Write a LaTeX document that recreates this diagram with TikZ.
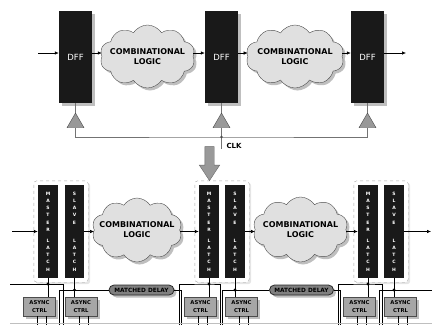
\documentclass[tikz,border=0pt]{standalone}
\usepackage{fontspec}
\setmainfont{DejaVu Sans}
\usepackage{tikz}
\usetikzlibrary{shapes.symbols,shapes.geometric,shapes.arrows,shadows,fit,backgrounds,arrows.meta}

\begin{document}
\begin{tikzpicture}[x=1pt, y=-1pt,
  shd/.style={drop shadow={shadow xshift=2.5pt, shadow yshift=-2.5pt, fill=black!25, opacity=1}},
  dff/.style={rectangle, fill=black!90, minimum width=33pt, minimum height=92pt, text=white, font=\fontsize{8.5}{10}\selectfont, shd},
  cloudbox/.style={cloud, cloud puffs=10, cloud puff arc=115, aspect=1.5, draw=black!70, fill=black!12, inner xsep=-30pt, inner ysep=-8pt, align=center, font=\bfseries\fontsize{8}{10}\selectfont, shd},
  tri/.style={regular polygon, regular polygon sides=3, minimum size=19.6pt, inner sep=0pt, draw=black!70, fill=black!40},
  clkw/.style={draw=black!55, line width=0.8pt},
  arr/.style={-{Latex[length=4pt, width=3.5pt]}, line width=0.6pt},
  latch/.style={rectangle, fill=black!90, minimum width=20pt, minimum height=93pt, inner sep=1pt, text=white, align=center, font=\bfseries\fontsize{4.5}{7.2}\selectfont},
  grp/.style={rectangle, rounded corners=3pt, dashed, draw=black!35, fill=white, inner xsep=4pt, inner ysep=4pt, drop shadow={shadow xshift=2pt, shadow yshift=-2pt, fill=black!10, opacity=1}},
  delay/.style={rectangle, rounded corners=5pt, draw=black!85, line width=0.8pt, fill=black!50, minimum width=65pt, minimum height=10pt, inner sep=0pt, font=\bfseries\fontsize{5.8}{6}\selectfont, shd},
  ctrl/.style={rectangle, draw=black!70, fill=black!35, minimum width=32pt, minimum height=19pt, inner sep=0pt, align=center, font=\bfseries\fontsize{5.3}{7.5}\selectfont, shd},
  wire/.style={line width=0.8pt}]
  \useasboundingbox (0,0) rectangle (432,325);

  % flip-flop pipeline
  \node (dff1) [dff] at (75.5,57) {DFF};
  \node (dff2) [dff] at (221.5,57) {DFF};
  \node (dff3) [dff] at (367.5,57) {DFF};
  \node (cl1) [cloudbox, minimum width=95pt, minimum height=63pt] at (147.5,56.5) {COMBINATIONAL\\LOGIC};
  \node (cl2) [cloudbox, minimum width=98pt, minimum height=63pt] at (295,56.5) {COMBINATIONAL\\LOGIC};
  \coordinate (din) at (38,53);
  \coordinate (dout) at (406,53);
  \draw[arr] (din) -- (din -| dff1.west);
  \draw[arr] (dff1.east |- din) -- (cl1.west |- din);
  \draw[arr] (cl1.east |- din) -- (dff2.west |- din);
  \draw[arr] (dff2.east |- din) -- (cl2.west |- din);
  \draw[arr] (cl2.east |- din) -- (dff3.west |- din);
  \draw[arr] (dff3.east |- din) -- (dout);

  % clock tree
  \node (tr1) [tri] at (75.5,122.8) {};
  \node (tr2) [tri] at (221.5,122.8) {};
  \node (tr3) [tri] at (367.5,122.8) {};
  \draw[clkw] (dff1.south) -- (tr1.corner 1);
  \draw[clkw] (dff2.south) -- (tr2.corner 1);
  \draw[clkw] (dff3.south) -- (tr3.corner 1);
  \coordinate (clkbus) at (221.5,137);
  \coordinate (clkin) at (221.5,149);
  \draw[clkw] (tr1.south) |- (clkbus) -| (tr3.south);
  \draw[clkw] (tr2.south) -- (clkin);
  \fill[black!70] (clkbus) circle (1.3pt);
  \node (clk) [anchor=west, font=\bfseries\fontsize{7}{8}\selectfont] at (223,146) {CLK};

  \node (big) [single arrow, rotate=-90, minimum height=34pt, inner sep=4.5pt, single arrow head extend=5.5pt, single arrow tip angle=67, fill=black!40, draw=black!60] at (209.5,160) {};

  % latch pipeline
  \node (m1) [latch] at (48,231.5) {M\\A\\S\\T\\E\\R\\[3.8pt]L\\A\\T\\C\\H};
  \node (s1) [latch, minimum width=19pt] at (74.5,231.5) {S\\L\\A\\V\\E\\[11pt]L\\A\\T\\C\\H};
  \node (m2) [latch] at (209,231.5) {M\\A\\S\\T\\E\\R\\[3.8pt]L\\A\\T\\C\\H};
  \node (s2) [latch] at (235,231.5) {S\\L\\A\\V\\E\\[11pt]L\\A\\T\\C\\H};
  \node (m3) [latch] at (368,231.5) {M\\A\\S\\T\\E\\R\\[3.8pt]L\\A\\T\\C\\H};
  \node (s3) [latch] at (394,231.5) {S\\L\\A\\V\\E\\[11pt]L\\A\\T\\C\\H};
  \begin{scope}[on background layer]
    \node (g1) [grp, fit=(m1)(s1)] {};
    \node (g2) [grp, fit=(m2)(s2)] {};
    \node (g3) [grp, fit=(m3)(s3)] {};
  \end{scope}
  \node (cl3) [cloudbox, minimum width=90pt, minimum height=64pt] at (137,230) {COMBINATIONAL\\LOGIC};
  \node (cl4) [cloudbox, minimum width=95pt, minimum height=65pt] at (300.5,229.5) {COMBINATIONAL\\LOGIC};
  \coordinate (lin) at (12,231.5);
  \coordinate (lout) at (431,231.5);
  \draw[arr] (lin) -- (m1.west);
  \draw[arr] (s1.east) -- (s1.east -| cl3.west);
  \draw[arr] (cl3.east |- m2.west) -- (m2.west);
  \draw[arr] (s2.east) -- (s2.east -| cl4.west);
  \draw[arr] (cl4.east |- m3.west) -- (m3.west);
  \draw[arr] (s3.east) -- (lout);

  % handshake control
  \node (md1) [delay] at (141.5,290) {MATCHED DELAY};
  \node (md2) [delay, minimum width=64pt] at (301.5,290) {MATCHED DELAY};
  \node (a1) [ctrl] at (39.5,306.5) {ASYNC\\CTRL};
  \node (a2) [ctrl] at (81,306.5) {ASYNC\\CTRL};
  \node (a3) [ctrl] at (200.5,306.5) {ASYNC\\CTRL};
  \node (a4) [ctrl] at (241.5,306.5) {ASYNC\\CTRL};
  \node (a5) [ctrl] at (359.5,306.5) {ASYNC\\CTRL};
  \node (a6) [ctrl] at (400.5,306.5) {ASYNC\\CTRL};
  \coordinate (lvA) at (0,284);
  \coordinate (lvB) at (0,290);
  \coordinate (bot) at (0,325);
  \coordinate (reqin) at (10,284);
  \coordinate (reqout) at (432,290);
  \coordinate (bendA1) at (63,325);
  \coordinate (bendB1) at (59,325);
  \coordinate (bendC1) at (181,325);
  \coordinate (bendA2) at (179,325);
  \coordinate (bendA2r) at (220,325);
  \coordinate (bendB2) at (222,325);
  \coordinate (bendC2) at (340,325);
  \coordinate (bendA3) at (338,325);
  \coordinate (bendA3r) at (382,325);
  \coordinate (bendB3) at (379,325);
  \draw[wire] (reqin) -| (bendA1);
  \draw[wire] (bendB1) |- (md1.west);
  \draw[wire] (md1.east) -| (bendC1);
  \draw[wire] (bendA2) |- (m2.south |- lvA) -| (bendA2r);
  \draw[wire] (bendB2) |- (md2.west);
  \draw[wire] (md2.east) -| (bendC2);
  \draw[wire] (bendA3) |- (m3.south |- lvA) -| (bendA3r);
  \draw[wire] (bendB3) |- (reqout);
  \foreach \l/\b in {m1/a1, s1/a2, m2/a3, s2/a4, m3/a5, s3/a6}
    \draw[wire] (\l.south) -- (\l.south |- \b.north);
  \foreach \l in {m1, m2, m3}
    \fill (\l.south |- lvA) circle (1.6pt);
  \foreach \l in {s1, s2, s3}
    \fill (\l.south |- lvB) circle (1.6pt);
  \foreach \b in {a1, a2, a3, a4, a5, a6} {
    \draw[wire] ([xshift=-2pt]\b.south) -- ([xshift=-2pt]\b.south |- bot);
    \draw[wire] ([xshift=7pt]\b.south) -- ([xshift=7pt]\b.south |- bot);
  }
  \draw[black!25, line width=0.6pt] (reqin |- 0,323) -- (432,323);
\end{tikzpicture}
\end{document}
